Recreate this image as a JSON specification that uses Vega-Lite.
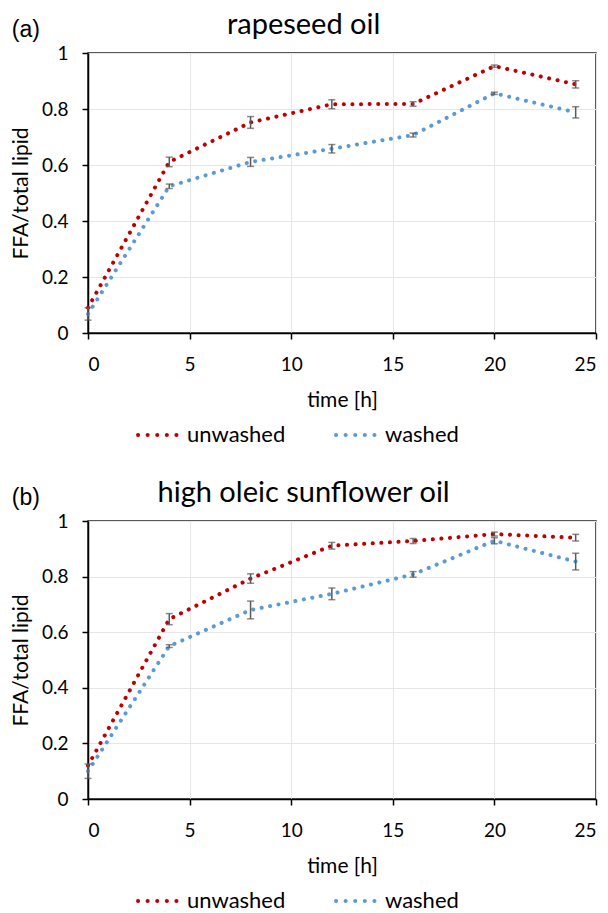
{
  "$schema": "https://vega.github.io/schema/vega-lite/v6.json",
  "padding": {"left": 9, "right": 10, "top": 10, "bottom": 0},
  "datasets": {
    "a": [
      {"t": 0, "v": 0.09, "e": 0.0, "s": "unwashed"},
      {"t": 4, "v": 0.611, "e": 0.017, "s": "unwashed"},
      {"t": 8, "v": 0.752, "e": 0.021, "s": "unwashed"},
      {"t": 12, "v": 0.817, "e": 0.016, "s": "unwashed"},
      {"t": 16, "v": 0.818, "e": 0.008, "s": "unwashed"},
      {"t": 20, "v": 0.953, "e": 0.004, "s": "unwashed"},
      {"t": 24, "v": 0.888, "e": 0.013, "s": "unwashed"},
      {"t": 0, "v": 0.068, "e": 0.022, "s": "washed"},
      {"t": 4, "v": 0.524, "e": 0.008, "s": "washed"},
      {"t": 8, "v": 0.611, "e": 0.016, "s": "washed"},
      {"t": 12, "v": 0.658, "e": 0.015, "s": "washed"},
      {"t": 16, "v": 0.707, "e": 0.007, "s": "washed"},
      {"t": 20, "v": 0.856, "e": 0.004, "s": "washed"},
      {"t": 24, "v": 0.788, "e": 0.02, "s": "washed"}
    ],
    "b": [
      {"t": 0, "v": 0.12, "e": 0.0, "s": "unwashed"},
      {"t": 4, "v": 0.647, "e": 0.02, "s": "unwashed"},
      {"t": 8, "v": 0.793, "e": 0.017, "s": "unwashed"},
      {"t": 12, "v": 0.911, "e": 0.012, "s": "unwashed"},
      {"t": 16, "v": 0.928, "e": 0.009, "s": "unwashed"},
      {"t": 20, "v": 0.953, "e": 0.007, "s": "unwashed"},
      {"t": 24, "v": 0.94, "e": 0.012, "s": "unwashed"},
      {"t": 0, "v": 0.1, "e": 0.026, "s": "washed"},
      {"t": 4, "v": 0.55, "e": 0.005, "s": "washed"},
      {"t": 8, "v": 0.68, "e": 0.032, "s": "washed"},
      {"t": 12, "v": 0.738, "e": 0.021, "s": "washed"},
      {"t": 16, "v": 0.808, "e": 0.01, "s": "washed"},
      {"t": 20, "v": 0.929, "e": 0.011, "s": "washed"},
      {"t": 24, "v": 0.854, "e": 0.03, "s": "washed"}
    ]
  },
  "config": {
    "font": "Lato",
    "view": {"stroke": "#222222", "strokeWidth": 1.5},
    "axis": {
      "labelFontSize": 19, "labelColor": "#000000", "titleFontSize": 21, "titleFontWeight": "normal", "titleColor": "#000000",
      "domainColor": "#000000", "domainWidth": 1.5, "tickColor": "#000000", "tickWidth": 1.5, "tickSize": 6,
      "gridColor": "#E6E6E6", "gridWidth": 1
    },
    "axisX": {"labelPadding": 16, "titlePadding": 15},
    "axisY": {"labelPadding": 14, "titlePadding": 10},
    "legend": {"labelFontSize": 22, "labelColor": "#000000"},
    "title": {"fontWeight": "normal", "color": "#000000"},
    "concat": {"spacing": 32}
  },
  "resolve": {"legend": {"color": "independent"}},
  "vconcat": [
    {
      "title": {"text": "(a)", "anchor": "start", "frame": "bounds", "font": "Liberation Sans", "fontSize": 23, "offset": -32, "dx": 2},
      "vconcat": [
        {
          "title": {"text": "rapeseed oil", "anchor": "middle", "frame": "bounds", "fontSize": 29, "offset": 4},
          "width": 508, "height": 280,
          "data": {"name": "a"},
          "encoding": {
            "x": {"field": "t", "type": "quantitative", "scale": {"domain": [0, 25]}, "axis": {"title": "time [h]", "values": [0, 5, 10, 15, 20, 25]}},
            "y": {"field": "v", "type": "quantitative", "scale": {"domain": [0, 1]}, "axis": {"title": "FFA/total lipid", "values": [0, 0.2, 0.4, 0.6, 0.8, 1], "format": "~g"}}
          },
          "layer": [
            {
              "mark": {"type": "line", "interpolate": "linear", "strokeWidth": 4, "strokeDash": [0.1, 8.5], "strokeCap": "round"},
              "encoding": {
                "color": {"field": "s", "type": "nominal", "scale": {"domain": ["unwashed", "washed"], "range": ["#C00000", "#5B9BD5"]},
                  "legend": {"title": null, "orient": "bottom", "direction": "horizontal", "symbolType": "stroke", "symbolSize": 1600, "symbolStrokeWidth": 4, "symbolDash": [0.1, 9.5], "symbolOffset": 48, "columnPadding": 0, "labelOffset": 7, "offset": 2,
                    "encoding": {"symbols": {"strokeCap": {"value": "round"}}}}}
              }
            },
            {
              "transform": [{"filter": "datum.e > 0"}],
              "mark": {"type": "errorbar", "ticks": {"size": 7}, "color": "#595959", "thickness": 1.5},
              "encoding": {"yError": {"field": "e"}}
            }
          ]
        }
      ]
    },
    {
      "title": {"text": "(b)", "anchor": "start", "frame": "bounds", "font": "Liberation Sans", "fontSize": 23, "offset": -32, "dx": 2},
      "vconcat": [
        {
          "title": {"text": "high oleic sunflower oil", "anchor": "middle", "frame": "bounds", "fontSize": 29, "offset": 4},
          "width": 508, "height": 278,
          "data": {"name": "b"},
          "encoding": {
            "x": {"field": "t", "type": "quantitative", "scale": {"domain": [0, 25]}, "axis": {"title": "time [h]", "values": [0, 5, 10, 15, 20, 25]}},
            "y": {"field": "v", "type": "quantitative", "scale": {"domain": [0, 1]}, "axis": {"title": "FFA/total lipid", "values": [0, 0.2, 0.4, 0.6, 0.8, 1], "format": "~g"}}
          },
          "layer": [
            {
              "mark": {"type": "line", "interpolate": "linear", "strokeWidth": 4, "strokeDash": [0.1, 8.5], "strokeCap": "round"},
              "encoding": {
                "color": {"field": "s", "type": "nominal", "scale": {"domain": ["unwashed", "washed"], "range": ["#C00000", "#5B9BD5"]},
                  "legend": {"title": null, "orient": "bottom", "direction": "horizontal", "symbolType": "stroke", "symbolSize": 1600, "symbolStrokeWidth": 4, "symbolDash": [0.1, 9.5], "symbolOffset": 48, "columnPadding": 0, "labelOffset": 7, "offset": 2,
                    "encoding": {"symbols": {"strokeCap": {"value": "round"}}}}}
              }
            },
            {
              "transform": [{"filter": "datum.e > 0"}],
              "mark": {"type": "errorbar", "ticks": {"size": 7}, "color": "#595959", "thickness": 1.5},
              "encoding": {"yError": {"field": "e"}}
            }
          ]
        }
      ]
    }
  ]
}
